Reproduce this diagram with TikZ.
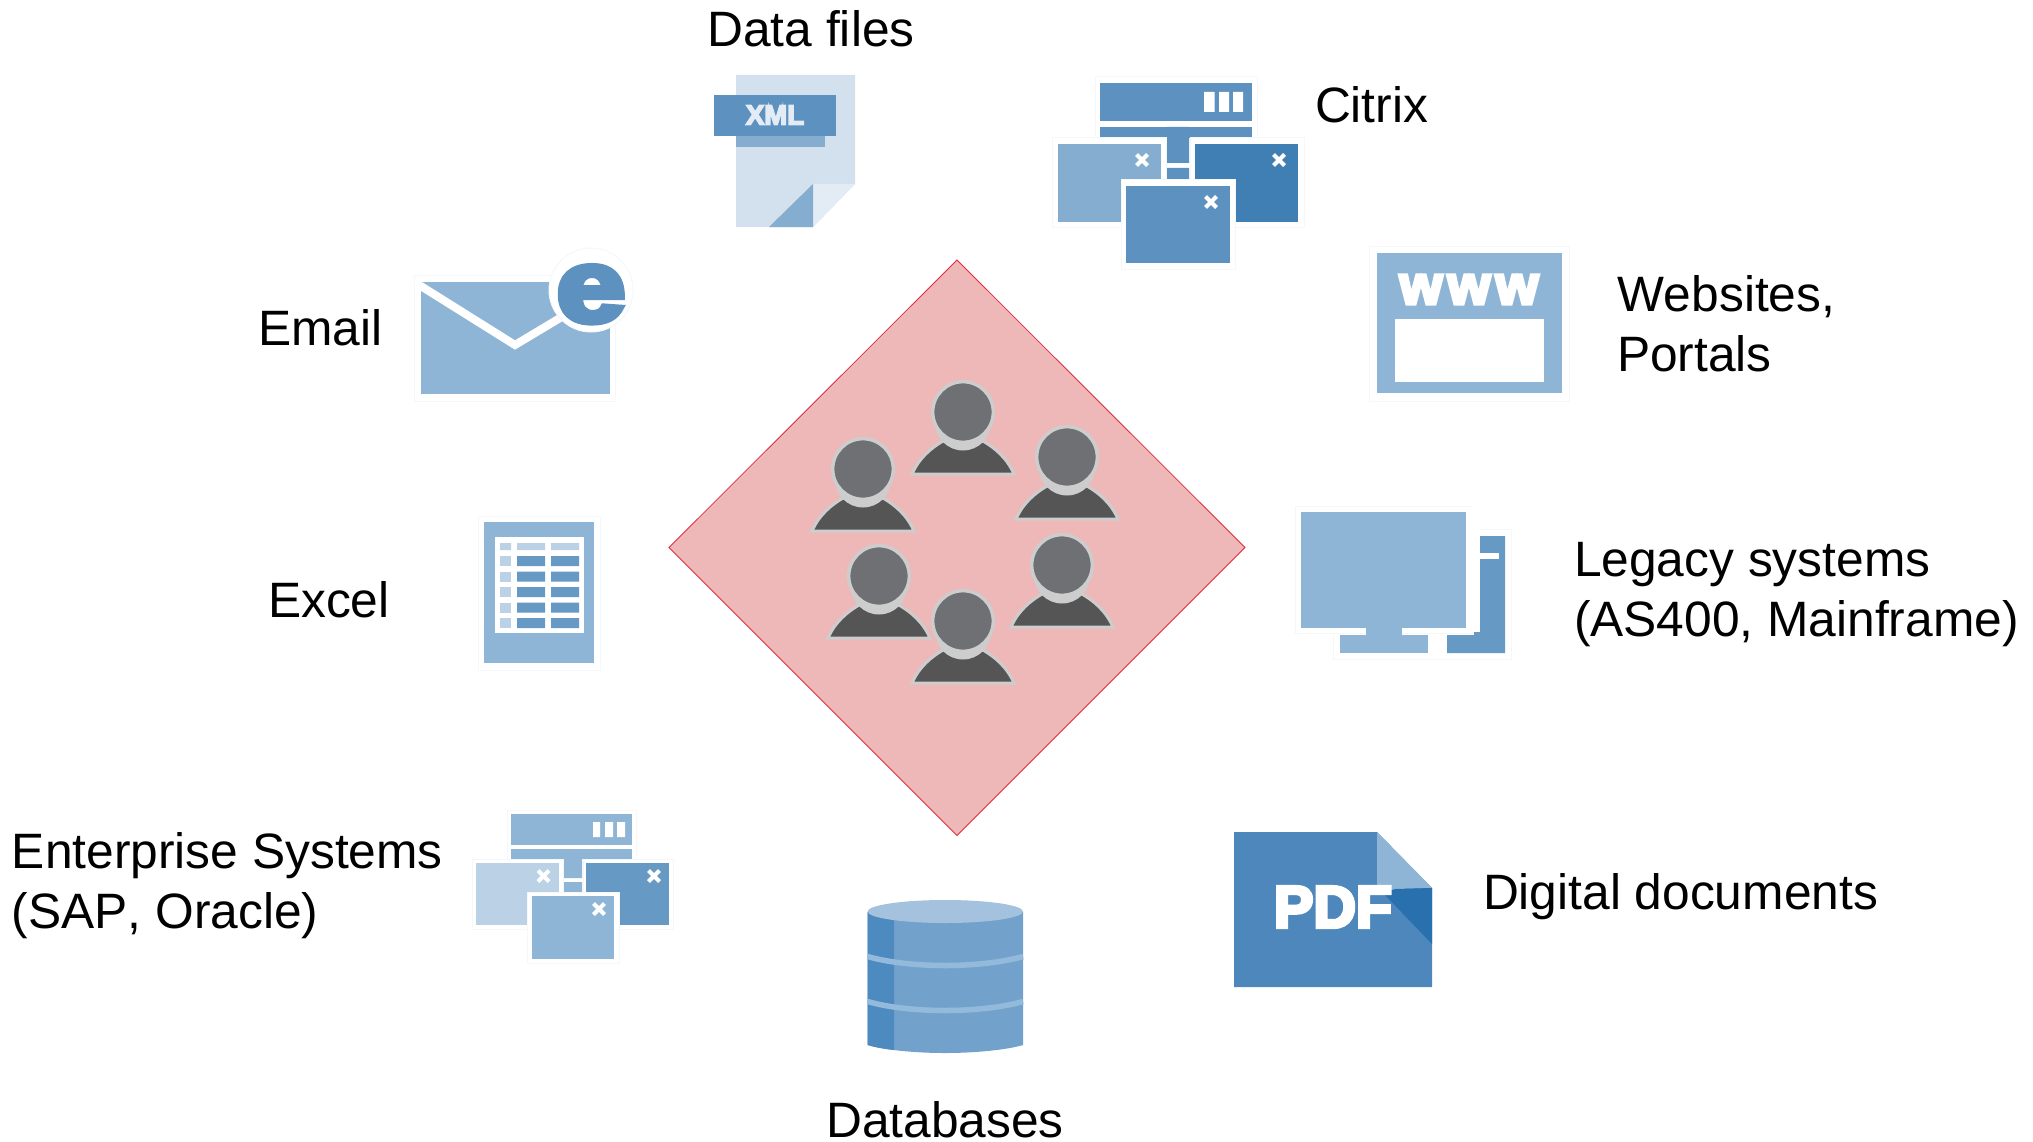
\documentclass[tikz,border=0pt]{standalone}
\usepackage{graphicx}
\usepackage{fontspec}
\setmainfont[Kerning=Off]{Liberation Sans}
\definecolor{cLight}{HTML}{BAD1E6}
\definecolor{cMid}{HTML}{8FB5D6}
\definecolor{cSteel}{HTML}{6699C4}
\definecolor{cBlue}{HTML}{5C91C0}
\definecolor{cSoft}{HTML}{84ADCF}
\definecolor{cDeep}{HTML}{3F7FB4}
\definecolor{cPdf}{HTML}{4D87BB}
\definecolor{cPdfDark}{HTML}{2870AE}
\definecolor{cPage}{HTML}{D3E1EE}
\definecolor{cFlap}{HTML}{E3ECF4}
\definecolor{cHalo}{HTML}{F5F8FB}
\definecolor{cDiamond}{HTML}{EEB8B8}
\definecolor{cDiamondLine}{HTML}{E02B3C}
\definecolor{cHead}{HTML}{6F7073}
\definecolor{cBody}{HTML}{555555}
\definecolor{cRim}{HTML}{CDCDCD}
\definecolor{cDbTop}{HTML}{A4C2DD}
\definecolor{cDbBody}{HTML}{72A2CB}
\definecolor{cDbSide}{HTML}{4D8AC0}
\definecolor{cDbBand}{HTML}{93BADB}
\newfontfamily\heavyfont[FakeBold=6]{Liberation Sans Bold}
\tikzset{
  label/.style={inner sep=0pt,outer sep=0pt,text=black,font=\fontsize{49.7}{60}\selectfont},
  lefttext/.style={label,anchor=base west},
  block/.style={label,anchor=north west,align=left},
  halo/.style={fill=white,draw=cHalo,line width=1pt},
  glyph/.style={inner sep=0pt,outer sep=0pt,text=white},
  closex/.pic={\draw[white,line width=4.2pt] (-5.5,-5.5) -- (5.5,5.5) (-5.5,5.5) -- (5.5,-5.5);},
  person/.pic={
    \filldraw[fill=cBody,draw=cRim,line width=3pt,miter limit=10]
      (-51,62) .. controls (-44,46) and (-32,36) .. (-20,29)
      -- (20,29) .. controls (32,36) and (44,46) .. (51,62) -- cycle;
    \fill[cRim] (0,10.5) circle[radius=28];
    \filldraw[fill=cHead,draw=cRim,line width=3.4pt] (0,0) circle[radius=30.3];
  }
}
\begin{document}
\begin{tikzpicture}[x=1pt,y=-1pt]
\useasboundingbox (0,0) rectangle (2033,1142);
\fill[white] (0,0) rectangle (2033,1142);

% central diamond
\filldraw[fill=cDiamond,draw=cDiamondLine,line width=0.8pt]
  (957,260) -- (1245,547.5) -- (957,835.5) -- (669,547.5) -- cycle;
\pic at (963,412) {person};
\pic at (1067,457) {person};
\pic at (863,469) {person};
\pic at (1062,565) {person};
\pic at (879,576) {person};
\pic at (963,621) {person};

% XML file
\fill[cPage] (736,75) -- (855,75) -- (855,184) -- (813,227) -- (736,227) -- cycle;
\fill[cFlap] (813,184) -- (855,184) -- (813,227) -- cycle;
\fill[cSoft] (769,227) -- (813,184) -- (813,227) -- cycle;
\fill[cSoft] (736,136) rectangle (825,147);
\fill[cBlue] (714,95) rectangle (836,136);
\node[glyph,text=cFlap,font=\heavyfont\fontsize{27.5}{27.5}\selectfont] (xmltxt) at (775,115) {XML};

% Citrix stack
\filldraw[halo] (1095,77) rectangle (1257,140);
\fill[cBlue] (1100,83) rectangle (1252,121);
\fill[white] (1204,92) rectangle (1214.5,112) (1219,92) rectangle (1229,112) (1233,92) rectangle (1243,112);
\fill[cBlue] (1100,127) rectangle (1252,138);
\filldraw[halo] (1052,138) rectangle (1166,227);
\filldraw[halo] (1190,138) rectangle (1304,227);
\fill[cBlue] (1167,127) rectangle (1189,163) (1167,168) rectangle (1189,184);
\fill[cSoft] (1057.5,144) rectangle (1161,222);
\fill[cDeep] (1195,144) rectangle (1298,222);
\filldraw[halo] (1121,180) rectangle (1235,269);
\fill[cBlue] (1126,186) rectangle (1230,263);
\pic at (1142,160) {closex};
\pic at (1279,160) {closex};
\pic at (1211,202) {closex};

% Websites
\filldraw[halo] (1369,246) rectangle (1569,401);
\fill[cMid] (1377,253) rectangle (1562,393);
\fill[white] (1395,319) rectangle (1544,382);
\node[glyph,anchor=base] (wwwa) at (1421,304) {\heavyfont\fontsize{55}{55}\selectfont w};
\node[glyph,anchor=base] (wwwb) at (1469,304) {\heavyfont\fontsize{55}{55}\selectfont w};
\node[glyph,anchor=base] (wwwc) at (1517,304) {\heavyfont\fontsize{55}{55}\selectfont w};

% Legacy systems
\filldraw[halo] (1333,529) -- (1511,529) -- (1511,659) -- (1333,659) -- cycle;
\fill[cSteel] (1474,536) -- (1505,536) -- (1505,653) -- (1447,653) -- (1447,635) -- (1474,635) -- cycle;
\fill[white] (1474,553) rectangle (1499,559);
\filldraw[halo] (1295,506) rectangle (1472,633);
\fill[white] (1296,507) rectangle (1480,632);
\fill[cMid] (1301,512) rectangle (1466,628);
\fill[cMid] (1366,628) rectangle (1402,636);
\fill[cMid] (1340,635) rectangle (1428,653);

% Email
\filldraw[halo] (414,275) rectangle (615,401);
\fill[cMid] (421,282) rectangle (610,394);
\draw[white,line width=8pt] (416,283) -- (515,345) -- (570,312);
\filldraw[fill=white,draw=cHalo,line width=1pt] (591,290) circle[radius=42];
\node[glyph,anchor=base,text=cBlue] (etxt) at (591,321.5) {\scalebox{1.2}[1]{\heavyfont\fontsize{103}{103}\selectfont e}};

% Excel
\filldraw[halo] (478,516) rectangle (600,670);
\fill[cMid] (484,522) rectangle (594,663);
\fill[white] (495,537) rectangle (584,633);
\fill[cLight] (500,543) rectangle (511,550) (517,543) rectangle (545,550) (551,543) rectangle (579,550);
\foreach \r in {556,571.5,587,602.5,618}{
  \fill[cLight] (500,\r) rectangle (511,\r+10);
  \fill[cSteel] (517,\r) rectangle (545,\r+10) (551,\r) rectangle (579,\r+10);
}

% Enterprise systems stack
\filldraw[halo] (507,810) rectangle (636,862);
\fill[cMid] (510.5,814) rectangle (631.5,845);
\fill[white] (593,822) rectangle (600,837) (605,822) rectangle (613,837) (617,822) rectangle (625,837);
\fill[cMid] (510.5,849) rectangle (631.5,859);
\filldraw[halo] (472,859) rectangle (563,929);
\filldraw[halo] (583,859) rectangle (673,929);
\fill[cMid] (564,849) rectangle (582,878) (564,882) rectangle (582,895);
\fill[cLight] (476,863) rectangle (559,925);
\fill[cSteel] (586,863) rectangle (669,925);
\filldraw[halo] (527,892) rectangle (619,963);
\fill[cMid] (531.5,896) rectangle (614,959);
\pic at (543.5,876) {closex};
\pic at (654,876) {closex};
\pic at (599,909) {closex};

% Database
\fill[cDbBody] (867.6,912) -- (867.6,1045) .. controls (880,1049) and (910,1053) .. (945,1053)
  .. controls (980,1053) and (1010,1049) .. (1023,1045) -- (1023,912) -- cycle;
\begin{scope}
  \clip (867.6,900) rectangle (894,1060);
  \fill[cDbSide] (867.6,912) -- (867.6,1045) .. controls (880,1049) and (910,1053) .. (945,1053)
    -- (945,912) -- cycle;
\end{scope}
\fill[cDbTop] (945.3,911.5) ellipse[x radius=77.7,y radius=11.5];
\draw[cDbBand,line width=5.5pt] (867.6,956.5) .. controls (890,963) and (920,965.5) .. (945,965.5)
  .. controls (970,965.5) and (1000,963) .. (1023,956.5);
\draw[cDbBand,line width=5.5pt] (867.6,1001.5) .. controls (890,1008) and (920,1010.5) .. (945,1010.5)
  .. controls (970,1010.5) and (1000,1008) .. (1023,1001.5);

% PDF
\fill[cPdf] (1234,832) -- (1377,832) -- (1432,888) -- (1432,987) -- (1234,987) -- cycle;
\fill[cMid] (1377,832) -- (1432,888) -- (1395,889) -- (1387,895) -- (1377,888) -- cycle;
\fill[cPdfDark] (1395,889) -- (1432,888) -- (1432,944) -- (1383,893) -- cycle;
\node[glyph,font=\heavyfont\fontsize{59}{59}\selectfont] (pdftxt) at (1333,907) {PDF};

% Labels
\node[lefttext,anchor=base] (ldata) at (811,47) {Data files};
\node[lefttext] (lcitrix) at (1315,123) {Citrix};
\node[block] (lweb) at (1617,275) {Websites,\\Portals};
\node[block] (llegacy) at (1574,542) {Legacy systems\\(AS400, Mainframe)};
\node[lefttext] (ldigital) at (1483,909) {Digital documents};
\node[lefttext,anchor=base] (ldb) at (945,1137) {Databases};
\node[block] (lent) at (12,832) {Enterprise Systems\\(SAP, Oracle)};
\node[lefttext] (lexcel) at (268,617) {Excel};
\node[lefttext] (lemail) at (258,345) {Email};
\end{tikzpicture}
\end{document}
